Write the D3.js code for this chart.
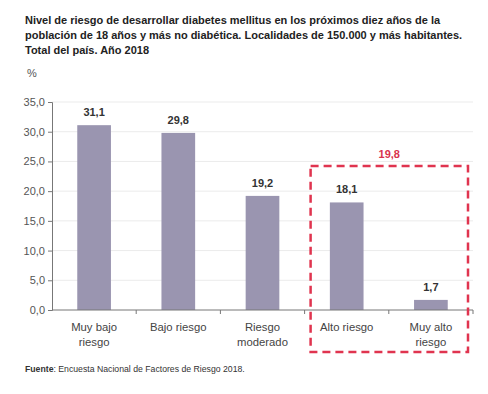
<!DOCTYPE html>
<html>
<head>
<meta charset="utf-8">
<script src="https://cdn.jsdelivr.net/npm/d3@7"></script>
<style>
  body { margin: 0; background: #fff; }
  svg { display: block; font-family: "Liberation Sans", Arial, Helvetica, sans-serif; }
</style>
</head>
<body>
<div id="chart"></div>
<script>
// data
const categories = [['Muy bajo', 'riesgo'], ['Bajo riesgo'], ['Riesgo', 'moderado'], ['Alto riesgo'], ['Muy alto', 'riesgo']];
const values = [31.1, 29.8, 19.2, 18.1, 1.7];
const yTicks = [0, 5, 10, 15, 20, 25, 30, 35];
const titleLines = [
  'Nivel de riesgo de desarrollar diabetes mellitus en los próximos diez años de la',
  'población de 18 años y más no diabética. Localidades de 150.000 y más habitantes.',
  'Total del país. Año 2018'
];
const highlightTotal = 19.8;
const highlighted = [3, 4];

const W = 488, H = 394;
const m = { left: 52, right: 15, top: 102, bottom: 84 };
const fmt = v => d3.format('.1f')(v).replace('.', ',');

const svg = d3.select('#chart').append('svg')
  .attr('width', W).attr('height', H);

// title
svg.append('g').selectAll('text')
  .data(titleLines)
  .join('text')
  .attr('x', 25).attr('y', (d, i) => 24 + i * 15)
  .attr('font-size', 11).attr('font-weight', 'bold').attr('fill', '#222')
  .text(d => d);

svg.append('text')
  .attr('x', 27).attr('y', 77)
  .attr('font-size', 11).attr('fill', '#555')
  .text('%');

const x = d3.scaleBand()
  .domain(d3.range(values.length))
  .range([m.left, W - m.right])
  .paddingInner(0.6).paddingOuter(0.3);

const y = d3.scaleLinear()
  .domain([0, 35])
  .range([H - m.bottom, m.top]);

// gridlines
svg.append('g')
  .selectAll('line')
  .data(yTicks.slice(1))
  .join('line')
  .attr('x1', m.left).attr('x2', W - m.right)
  .attr('y1', d => y(d)).attr('y2', d => y(d))
  .attr('stroke', '#ebebeb').attr('stroke-width', 1);

// y axis
const yAxis = svg.append('g')
  .attr('transform', `translate(${m.left},0)`)
  .call(d3.axisLeft(y).tickValues(yTicks).tickFormat(fmt).tickSize(4).tickPadding(3));
yAxis.select('.domain').attr('stroke', '#777');
yAxis.selectAll('.tick line').attr('stroke', '#777');
yAxis.selectAll('.tick text').attr('font-size', 11).attr('fill', '#555')
  .attr('font-family', '"Liberation Sans", Arial, sans-serif');

// bars
svg.append('g')
  .selectAll('rect')
  .data(values)
  .join('rect')
  .attr('x', (d, i) => x(i))
  .attr('width', x.bandwidth())
  .attr('y', d => y(d))
  .attr('height', d => y(0) - y(d))
  .attr('fill', '#9a95b0');

// x axis line + ticks at band boundaries
const step = (W - m.right - m.left) / values.length;
svg.append('line')
  .attr('x1', m.left).attr('x2', W - m.right)
  .attr('y1', y(0)).attr('y2', y(0))
  .attr('stroke', '#777');
svg.append('g')
  .selectAll('line')
  .data(d3.range(1, values.length + 1))
  .join('line')
  .attr('x1', d => m.left + d * step).attr('x2', d => m.left + d * step)
  .attr('y1', y(0)).attr('y2', y(0) + 4)
  .attr('stroke', '#777');

// value labels
svg.append('g')
  .selectAll('text')
  .data(values)
  .join('text')
  .attr('x', (d, i) => x(i) + x.bandwidth() / 2)
  .attr('y', d => y(d) - 9)
  .attr('text-anchor', 'middle')
  .attr('font-size', 11).attr('font-weight', 'bold').attr('fill', '#333')
  .text(fmt);

// category labels
const catG = svg.append('g').selectAll('text')
  .data(categories)
  .join('text')
  .attr('text-anchor', 'middle')
  .attr('font-size', 11.3).attr('fill', '#444');
catG.selectAll('tspan')
  .data((d, i) => d.map(t => ({ t, i })))
  .join('tspan')
  .attr('x', d => x(d.i) + x.bandwidth() / 2)
  .attr('y', (d, j) => y(0) + 21 + j * 15)
  .text(d => d.t);

// highlight box
const bx0 = m.left + highlighted[0] * step + 6;
const bx1 = m.left + (highlighted[1] + 1) * step - 5;
svg.append('rect')
  .attr('x', bx0).attr('y', 166)
  .attr('width', bx1 - bx0).attr('height', 352 - 166)
  .attr('fill', 'none')
  .attr('stroke', '#e0344f').attr('stroke-width', 2.5)
  .attr('stroke-dasharray', '8,5');

svg.append('text')
  .attr('x', (bx0 + bx1) / 2).attr('y', 158)
  .attr('text-anchor', 'middle')
  .attr('font-size', 11).attr('font-weight', 'bold').attr('fill', '#d9334d')
  .text(fmt(highlightTotal));

// source
const src = svg.append('text')
  .attr('x', 25).attr('y', 372)
  .attr('font-size', 8.7).attr('fill', '#333');
src.append('tspan').attr('font-weight', 'bold').text('Fuente');
src.append('tspan').text(': Encuesta Nacional de Factores de Riesgo 2018.');
</script>
</body>
</html>
